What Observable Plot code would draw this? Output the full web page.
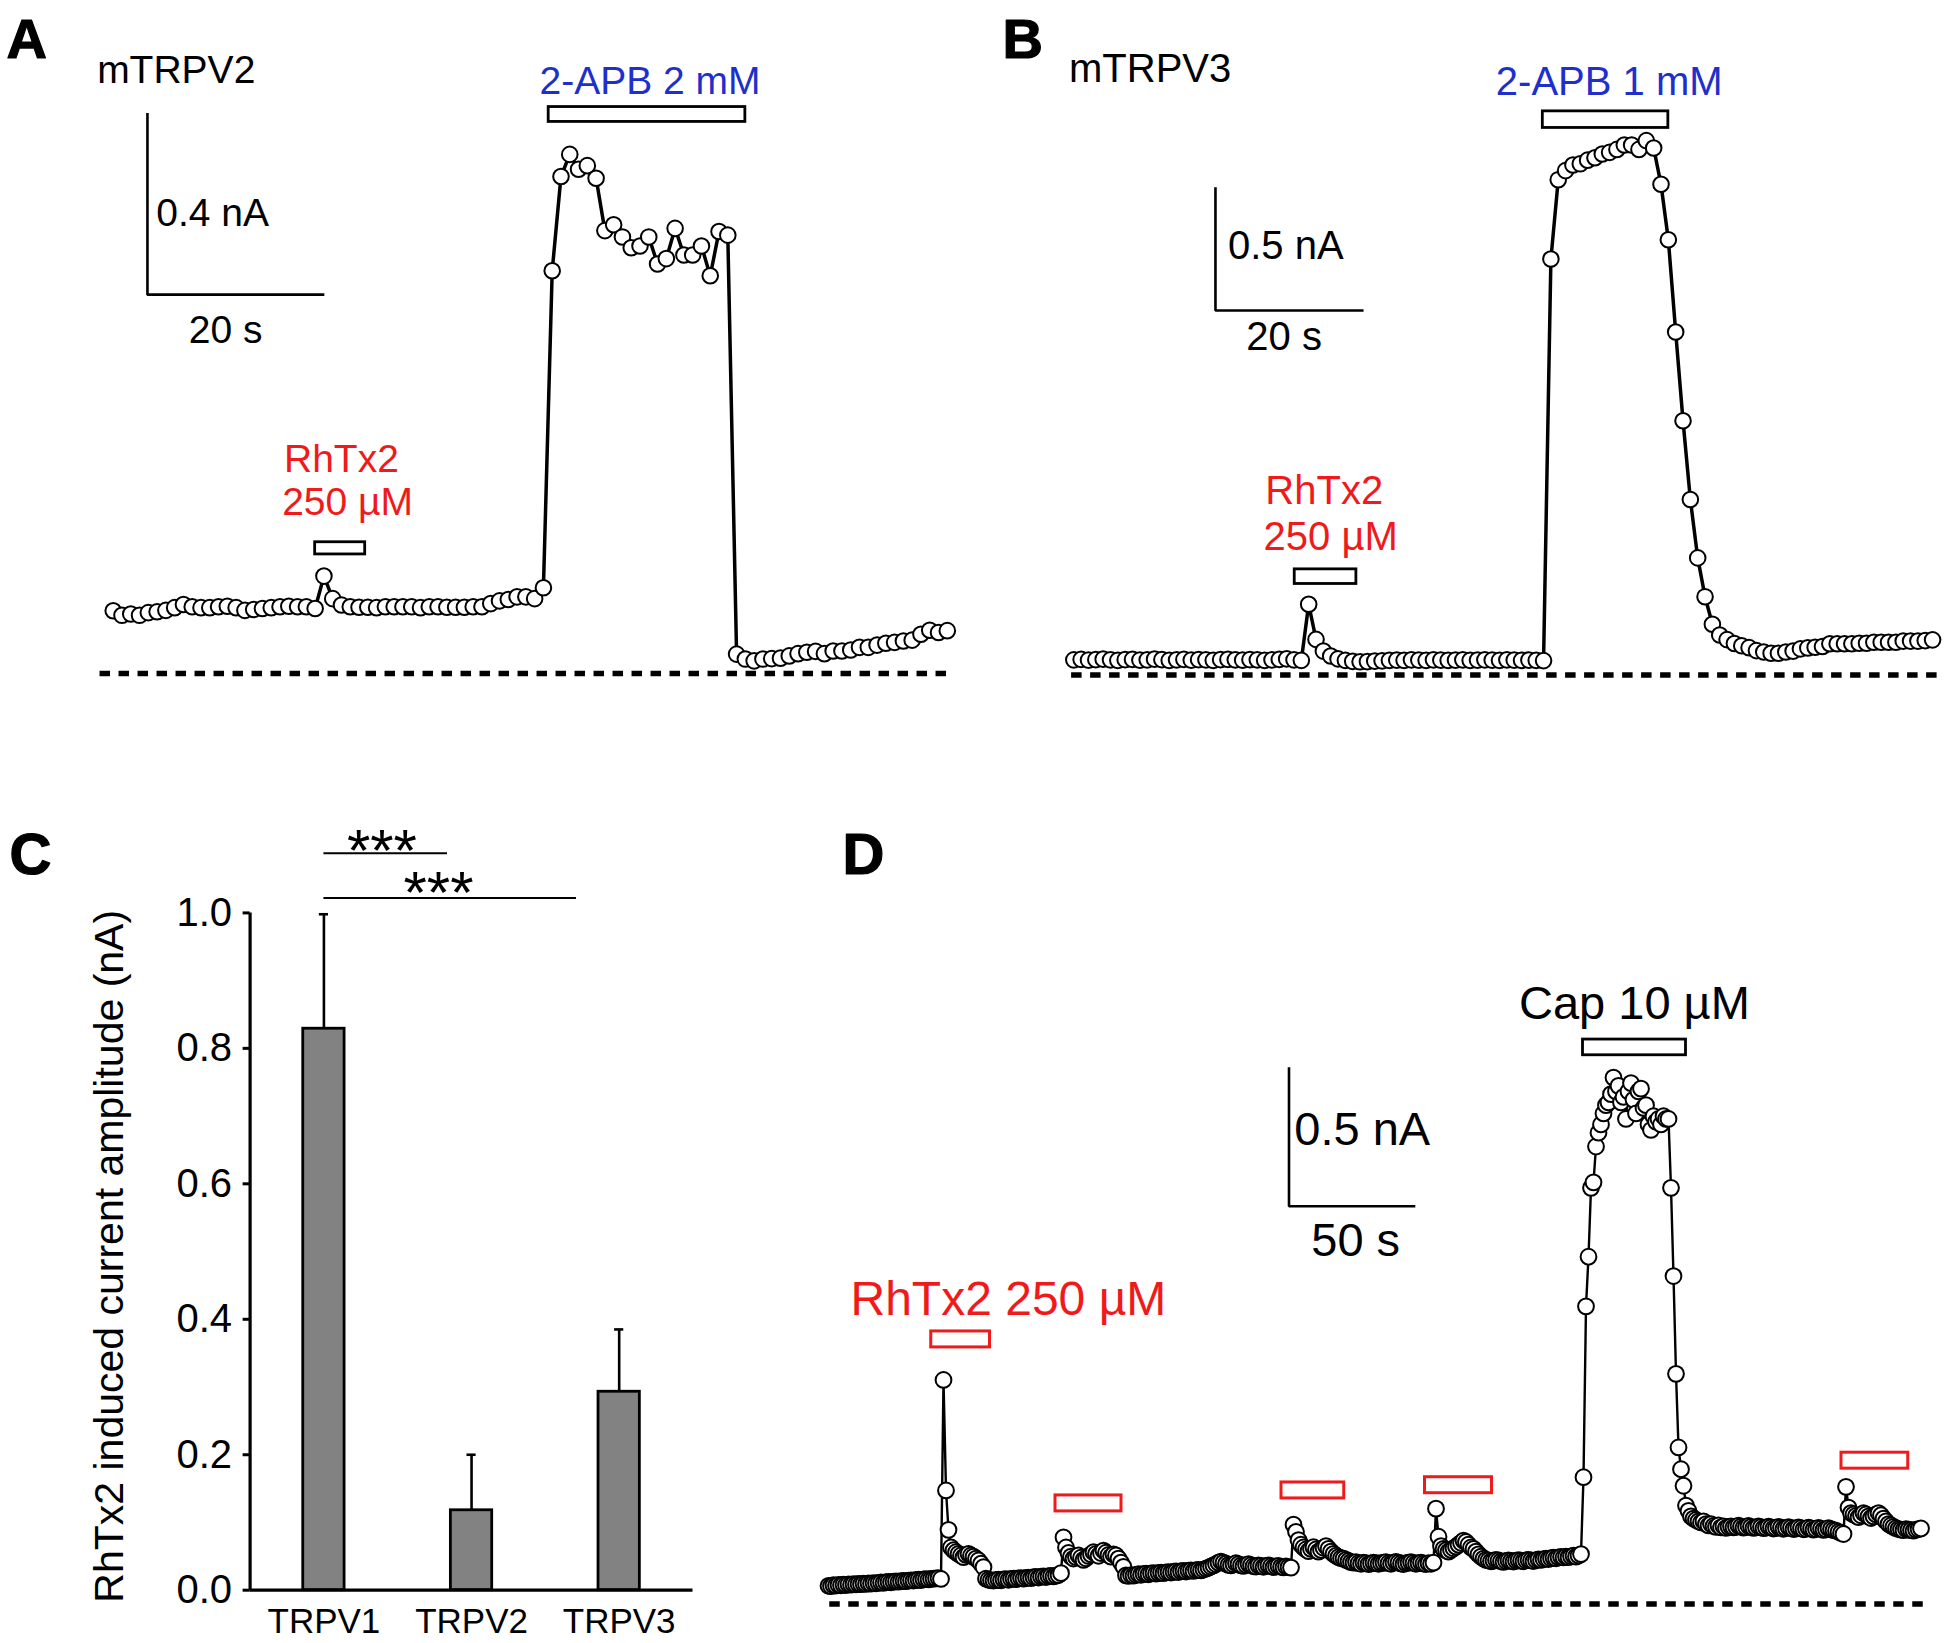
<!DOCTYPE html>
<html>
<head>
<meta charset="utf-8">
<script src="https://cdn.jsdelivr.net/npm/d3@7"></script>
<script src="https://cdn.jsdelivr.net/npm/@observablehq/plot@0.6"></script>
<style>
  html, body { margin: 0; padding: 0; background: #fff; }
  #figure { position: relative; width: 1950px; height: 1643px; background: #fff; overflow: hidden; }
  .panel { position: absolute; }
  .panel svg { display: block; overflow: visible; }
</style>
</head>
<body>
<div id="figure">
  <div class="panel" id="panelA" style="left:0px;top:0px;"></div>
  <div class="panel" id="panelB" style="left:975px;top:0px;"></div>
  <div class="panel" id="panelC" style="left:0px;top:720px;"></div>
  <div class="panel" id="panelD" style="left:720px;top:720px;"></div>
</div>
<script>
// ======================= DATA =======================
// Panel A – mTRPV2 whole-cell current (nA), one sample per second
const aCurrent = [
  0.139,0.129,0.132,0.129,0.135,0.137,0.140,0.146,0.153,0.148,
  0.146,0.146,0.148,0.149,0.146,0.140,0.142,0.144,0.146,0.148,
  0.149,0.148,0.148,0.144,0.216,0.166,0.152,0.148,0.147,0.147,
  0.146,0.148,0.148,0.148,0.148,0.146,0.148,0.148,0.147,0.147,
  0.147,0.148,0.148,0.155,0.161,0.164,0.170,0.170,0.166,0.190,
  0.893,1.102,1.151,1.118,1.126,1.098,0.982,0.995,0.968,0.944,
  0.948,0.968,0.908,0.920,0.987,0.928,0.928,0.948,0.882,0.980,
  0.972,0.043,0.032,0.028,0.032,0.033,0.034,0.039,0.044,0.047,
  0.049,0.044,0.050,0.050,0.052,0.058,0.058,0.063,0.067,0.069,
  0.072,0.074,0.087,0.096,0.091,0.095
];
const aRhTx2Window = [23.0, 28.7];   // s
const aApbWindow   = [49.6, 72.0];   // s
const aScaleBar    = [0.4, 20];      // nA, s

// Panel B – mTRPV3 whole-cell current (nA), one sample per second
const bCurrent = [
  0.062,0.064,0.061,0.063,0.065,0.062,0.060,0.063,0.064,0.061,
  0.062,0.065,0.063,0.060,0.062,0.064,0.061,0.063,0.062,0.060,
  0.063,0.064,0.062,0.061,0.063,0.062,0.060,0.062,0.064,0.066,
  0.062,0.060,0.290,0.146,0.098,0.078,0.066,0.060,0.056,0.054,
  0.055,0.057,0.058,0.060,0.061,0.060,0.062,0.061,0.060,0.062,
  0.061,0.060,0.061,0.062,0.060,0.061,0.062,0.061,0.060,0.062,
  0.061,0.060,0.061,0.060,0.059,1.705,2.030,2.067,2.090,2.095,
  2.110,2.120,2.135,2.142,2.154,2.172,2.172,2.154,2.190,2.160,
  2.011,1.784,1.406,1.042,0.719,0.480,0.321,0.208,0.164,0.145,
  0.129,0.120,0.112,0.100,0.094,0.089,0.089,0.094,0.098,0.107,
  0.111,0.114,0.117,0.128,0.128,0.128,0.128,0.130,0.130,0.134,
  0.134,0.134,0.134,0.139,0.139,0.139,0.141,0.144
];
const bRhTx2Window = [30.1, 38.5];
const bApbWindow   = [63.9, 81.0];
const bScaleBar    = [0.5, 20];

// Panel C – RhTx2 induced current amplitude (mean ± SEM, nA)
const cChannels = ["TRPV1", "TRPV2", "TRPV3"];
const cMean     = [0.829, 0.118, 0.293];
const cSem      = [0.169, 0.082, 0.092];
const cTicks    = [0, 0.2, 0.4, 0.6, 0.8, 1.0];
const cSignif   = ["***", "***"];

// Panel D – TRPV1 current (nA), one sample per second
const dCurrent = [
  0.066,0.065,0.068,0.067,0.069,0.068,0.070,0.069,0.071,0.070,
  0.072,0.071,0.073,0.072,0.074,0.073,0.075,0.074,0.076,0.075,
  0.077,0.078,0.077,0.079,0.080,0.079,0.081,0.082,0.081,0.083,
  0.084,0.083,0.085,0.086,0.085,0.087,0.088,0.087,0.089,0.090,
  0.089,0.091,0.092,0.093,0.094,0.091,0.813,0.412,0.269,0.205,
  0.195,0.188,0.182,0.176,0.170,0.178,0.182,0.176,0.172,0.165,
  0.158,0.146,0.134,0.092,0.088,0.086,0.085,0.087,0.088,0.086,
  0.089,0.090,0.088,0.091,0.092,0.090,0.093,0.094,0.092,0.095,
  0.096,0.094,0.097,0.098,0.096,0.099,0.100,0.098,0.101,0.102,
  0.100,0.103,0.105,0.112,0.242,0.205,0.185,0.172,0.165,0.170,
  0.176,0.168,0.160,0.166,0.174,0.180,0.188,0.182,0.175,0.185,
  0.194,0.186,0.178,0.172,0.180,0.176,0.165,0.150,0.135,0.104,
  0.102,0.105,0.103,0.106,0.108,0.106,0.109,0.110,0.108,0.111,
  0.112,0.110,0.113,0.114,0.112,0.115,0.116,0.114,0.117,0.118,
  0.116,0.119,0.120,0.118,0.121,0.122,0.120,0.123,0.124,0.122,
  0.125,0.128,0.132,0.136,0.140,0.145,0.150,0.154,0.150,0.146,
  0.142,0.140,0.144,0.148,0.145,0.140,0.138,0.142,0.145,0.141,
  0.137,0.136,0.140,0.138,0.135,0.138,0.140,0.137,0.134,0.136,
  0.138,0.135,0.133,0.136,0.134,0.132,0.288,0.262,0.232,0.215,
  0.205,0.198,0.192,0.200,0.206,0.198,0.190,0.196,0.204,0.210,
  0.200,0.190,0.182,0.175,0.170,0.166,0.165,0.160,0.156,0.152,
  0.150,0.152,0.148,0.146,0.150,0.148,0.145,0.147,0.150,0.148,
  0.146,0.148,0.150,0.152,0.148,0.146,0.150,0.153,0.150,0.147,
  0.145,0.148,0.150,0.152,0.149,0.146,0.148,0.150,0.147,0.145,
  0.148,0.146,0.150,0.346,0.244,0.210,0.200,0.195,0.190,0.196,
  0.202,0.208,0.215,0.222,0.230,0.225,0.215,0.205,0.200,0.190,
  0.180,0.172,0.165,0.160,0.158,0.155,0.157,0.160,0.158,0.155,
  0.153,0.156,0.158,0.156,0.154,0.157,0.159,0.157,0.155,0.158,
  0.160,0.158,0.156,0.159,0.162,0.160,0.163,0.165,0.163,0.166,
  0.168,0.166,0.169,0.171,0.169,0.172,0.170,0.173,0.175,0.172,
  0.176,0.181,0.460,1.080,1.260,1.510,1.530,1.660,1.710,1.740,
  1.780,1.810,1.820,1.850,1.910,1.860,1.880,1.820,1.840,1.760,
  1.860,1.890,1.830,1.780,1.860,1.870,1.800,1.810,1.740,1.720,
  1.770,1.750,1.760,1.740,1.770,1.760,1.760,1.510,1.190,0.835,
  0.568,0.489,0.429,0.357,0.338,0.318,0.310,0.305,0.300,0.296,
  0.300,0.290,0.285,0.290,0.283,0.280,0.285,0.278,0.282,0.276,
  0.280,0.282,0.278,0.280,0.284,0.281,0.277,0.279,0.283,0.280,
  0.276,0.278,0.282,0.279,0.275,0.277,0.281,0.278,0.274,0.276,
  0.280,0.277,0.273,0.275,0.279,0.276,0.272,0.274,0.278,0.275,
  0.271,0.273,0.277,0.274,0.270,0.272,0.276,0.273,0.269,0.271,
  0.275,0.272,0.268,0.266,0.262,0.258,0.254,0.425,0.350,0.330,
  0.325,0.320,0.315,0.322,0.330,0.325,0.318,0.312,0.318,0.325,
  0.330,0.322,0.310,0.300,0.290,0.285,0.280,0.275,0.272,0.270,
  0.268,0.272,0.270,0.268,0.266,0.270,0.272,0.274
];
const dRhTx2Windows = [[41.1, 64.6], [90.8, 117.2], [181.2, 206.3], [238.6, 265.4], [405.2, 431.9]];
const dCapWindow    = [301.8, 343.0];
const dScaleBar     = [0.5, 50];

// ======================= DRAWING =======================
const FONT = '"Liberation Sans", Arial, Helvetica, sans-serif';
const RED = "#f01a1a";
const BLUE = "#1e2fcc";
const STYLE = {fontFamily: FONT, background: "transparent", overflow: "visible"};

const series = arr => arr.map((v, t) => ({t, v}));

function txt(s, x, y, o = {}) {
  return Plot.text([s], {x, y, text: d => d, textAnchor: "start", lineAnchor: "bottom", fill: "black", ...o});
}
function letter(s, dx, dy, fs) {
  return Plot.text([s], {frameAnchor: "top-left", dx, dy, text: d => d, textAnchor: "start",
    lineAnchor: "bottom", fontWeight: "bold", fontSize: fs, fill: "black", stroke: "black", strokeWidth: 1.2});
}
function scaleBar([dv, dt], t0, v0, sw) {
  const pts = [{t: t0, v: v0 + dv}, {t: t0, v: v0}, {t: t0 + dt, v: v0}];
  return Plot.line(pts, {x: "t", y: "v", stroke: "black", strokeWidth: sw, strokeLinejoin: "miter", strokeLinecap: "square"});
}
function trace(data, lw, r, sw) {
  return [
    Plot.line(data, {x: "t", y: "v", stroke: "black", strokeWidth: lw, strokeLinejoin: "round"}),
    Plot.dot(data, {x: "t", y: "v", r, fill: "white", stroke: "black", strokeWidth: sw})
  ];
}
function stim(windows, y1, y2, color, sw) {
  return Plot.rect(windows, {x1: d => d[0], x2: d => d[1], y1, y2, fill: "white", stroke: color, strokeWidth: sw});
}
function zeroLine(x1, x2) {
  return Plot.ruleY([0], {x1, x2, stroke: "black", strokeWidth: 5.5, strokeDasharray: "10.5,8.5"});
}

// ---------- Panel A ----------
const plotA = Plot.plot({
  width: 975, height: 720, margin: 0, style: STYLE,
  x: {domain: [0, 100], range: [112.7, 990.7], axis: null},
  y: {domain: [0, 1], range: [673, 222], axis: null},
  marks: [
    zeroLine(-1.5, 95.0),
    ...trace(series(aCurrent), 3.5, 7.8, 2),
    stim([aRhTx2Window], 0.264, 0.291, "black", 2.8),
    stim([aApbWindow], 1.223, 1.256, "black", 2.8),
    scaleBar(aScaleBar, 3.9, 0.84, 2.6),
    txt("mTRPV2", -1.83, 1.309, {fontSize: 39}),
    txt("2-APB 2 mM", 48.55, 1.284, {fontSize: 39, fill: BLUE}),
    txt(`${aScaleBar[0]} nA`, 4.9, 0.992, {fontSize: 39}),
    txt(`${aScaleBar[1]} s`, 8.6, 0.733, {fontSize: 39}),
    txt("RhTx2", 19.45, 0.446, {fontSize: 39, fill: RED}),
    txt("250 µM", 19.24, 0.352, {fontSize: 39, fill: RED}),
    letter("A", 6, 57, 56)
  ]
});
document.getElementById("panelA").append(plotA);

// ---------- Panel B ----------
const plotB = Plot.plot({
  width: 975, height: 720, margin: 0, style: STYLE,
  x: {domain: [0, 100], range: [98.3, 832.3], axis: null},
  y: {domain: [0, 1], range: [674.5, 430.5], axis: null},
  marks: [
    zeroLine(-0.3, 118.3),
    ...trace(series(bCurrent), 3.5, 7.8, 2),
    stim([bRhTx2Window], 0.373, 0.433, "black", 2.8),
    stim([bApbWindow], 2.242, 2.310, "black", 2.8),
    scaleBar(bScaleBar, 19.3, 1.494, 2.6),
    txt("mTRPV3", -0.65, 2.429, {fontSize: 40}),
    txt("2-APB 1 mM", 57.5, 2.376, {fontSize: 40, fill: BLUE}),
    txt(`${bScaleBar[0]} nA`, 21.0, 1.705, {fontSize: 40}),
    txt(`${bScaleBar[1]} s`, 23.5, 1.331, {fontSize: 40}),
    txt("RhTx2", 26.1, 0.702, {fontSize: 40, fill: RED}),
    txt("250 µM", 25.85, 0.514, {fontSize: 40, fill: RED}),
    letter("B", 27, 57, 56)
  ]
});
document.getElementById("panelB").append(plotB);

// ---------- Panel C ----------
const cData = cChannels.map((name, i) => ({i, name, mean: cMean[i], hi: cMean[i] + cSem[i]}));
const C_HALF = 0.14, C_CAP = 0.031;
const plotC = Plot.plot({
  width: 720, height: 923, style: STYLE,
  marginLeft: 249.6, marginRight: 27.5, marginTop: 192.4, marginBottom: 53.3,
  x: {domain: [-0.5, 2.5], axis: null},
  y: {domain: [0, 1], axis: null},
  marks: [
    Plot.rectY(cData, {x1: d => d.i - C_HALF, x2: d => d.i + C_HALF, y1: 0, y2: "mean",
      fill: "#828282", stroke: "black", strokeWidth: 2.8}),
    Plot.ruleX(cData, {x: "i", y1: "mean", y2: "hi", stroke: "black", strokeWidth: 2.6}),
    Plot.ruleY(cData, {x1: d => d.i - C_CAP, x2: d => d.i + C_CAP, y: "hi", stroke: "black", strokeWidth: 2.6}),
    Plot.ruleY([0], {x1: -0.5, x2: 2.5, stroke: "black", strokeWidth: 3.2}),
    Plot.ruleX([-0.5], {y1: 0, y2: 1, stroke: "black", strokeWidth: 3.2}),
    Plot.axisY({ticks: cTicks, tickFormat: d => d.toFixed(1), tickSize: 7, tickPadding: 11,
      fontSize: 40, strokeWidth: 3, label: null}),
    Plot.axisX({ticks: [0, 1, 2], tickFormat: i => cChannels[i], tickSize: 0, tickPadding: 17.5,
      fontSize: 35, label: null}),
    Plot.text(["RhTx2 induced current amplitude (nA)"], {frameAnchor: "left", y: 0.493, dx: -140,
      rotate: -90, text: d => d, fontSize: 41, textAnchor: "middle", lineAnchor: "middle", fill: "black"}),
    // significance comparisons (TRPV1 vs TRPV2, TRPV1 vs TRPV3)
    Plot.ruleY([0], {x1: 0, x2: 0.837, y: 1.088, stroke: "black", strokeWidth: 2}),
    Plot.ruleY([0], {x1: 0, x2: 1.711, y: 1.022, stroke: "black", strokeWidth: 2}),
    Plot.text([cSignif[0]], {x: 0.393, y: 1.062, text: d => d, fontSize: 60, letterSpacing: "3px",
      textAnchor: "middle", lineAnchor: "bottom", fill: "black"}),
    Plot.text([cSignif[1]], {x: 0.776, y: 1.0, text: d => d, fontSize: 60, letterSpacing: "3px",
      textAnchor: "middle", lineAnchor: "bottom", fill: "black"}),
    letter("C", -240.6, -38.6, 58)
  ]
});
document.getElementById("panelC").append(plotC);

// ---------- Panel D ----------
const dBarBottoms = [0.931, 0.336, 0.383, 0.402, 0.491];
const plotD = Plot.plot({
  width: 1230, height: 923, margin: 0, style: STYLE,
  x: {domain: [0, 100], range: [108, 358], axis: null},
  y: {domain: [0, 1], range: [883.5, 607.9], axis: null},
  marks: [
    zeroLine(0.5, 440),
    ...trace(series(dCurrent), 2.4, 7.9, 2),
    Plot.rect(dRhTx2Windows, {x1: d => d[0], x2: d => d[1],
      y1: (d, i) => dBarBottoms[i], y2: (d, i) => dBarBottoms[i] + 0.058,
      fill: "white", stroke: RED, strokeWidth: 3}),
    stim([dCapWindow], 1.991, 2.048, "black", 2.8),
    scaleBar(dScaleBar, 184.2, 1.443, 2.6),
    txt("Cap 10 µM", 276.2, 2.123, {fontSize: 47}),
    txt(`${dScaleBar[0]} nA`, 186.3, 1.664, {fontSize: 47}),
    txt(`${dScaleBar[1]} s`, 193.1, 1.263, {fontSize: 47}),
    txt("RhTx2 250 µM", 8.8, 1.047, {fontSize: 48, fill: RED}),
    letter("D", 122, 153, 58)
  ]
});
document.getElementById("panelD").append(plotD);
</script>
</body>
</html>
